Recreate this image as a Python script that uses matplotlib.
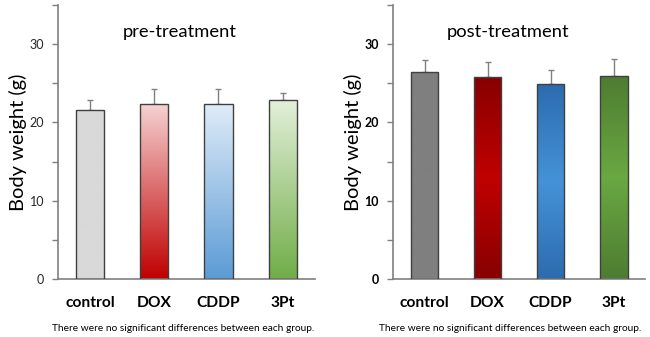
import matplotlib
matplotlib.use("Agg")
import matplotlib.pyplot as plt
import numpy as np
from matplotlib.colors import LinearSegmentedColormap

plt.rcParams["font.family"] = ["Lato", "DejaVu Sans"]

# data
groups = ["control", "DOX", "CDDP", "3Pt"]
pre_mean = [21.6, 22.4, 22.4, 22.9]
pre_err = [1.3, 1.9, 1.9, 0.9]
post_mean = [26.5, 25.8, 24.9, 25.9]
post_err = [1.5, 1.95, 1.8, 2.2]
note = "There were no significant differences between each group."

# gradient colours (top -> bottom)
pre_colors = [
    ["#d9d9d9", "#d9d9d9"],
    ["#f6d3d3", "#c00000"],
    ["#e0ecf8", "#5b9bd5"],
    ["#e3f0da", "#70ad47"],
]
post_colors = [
    ["#7f7f7f", "#7f7f7f", "#7f7f7f"],
    ["#880000", "#c00000", "#880000"],
    ["#2c6cae", "#4592d8", "#2c6cae"],
    ["#4e7c31", "#6aa842", "#4e7c31"],
]


def draw_panel(ax, means, errs, colors, title, title_x, note_x, bold_ticks):
    x = np.arange(len(groups))
    bars = ax.bar(x, means, width=0.44, color="none", edgecolor="#404040",
                  linewidth=1.0, zorder=3)
    for bar, cols in zip(bars, colors):
        cmap = LinearSegmentedColormap.from_list("g", cols[::-1])
        grad = np.linspace(0, 1, 256).reshape(-1, 1)
        x0, y0 = bar.get_x(), bar.get_y()
        im = ax.imshow(grad, cmap=cmap, aspect="auto", origin="lower",
                       extent=[x0, x0 + bar.get_width(), y0, y0 + bar.get_height()],
                       zorder=2)
        im.set_clip_path(bar)
    ax.errorbar(x, means, yerr=[np.zeros(len(errs)), errs], fmt="none",
                ecolor="#808080", elinewidth=1.0, capsize=2.5, capthick=1.0,
                zorder=1)

    ax.set_xlim(-0.5, 3.5)
    ax.set_ylim(0, 35)
    ax.set_yticks([0, 10, 20, 30])
    ax.set_yticks([5, 15, 25, 35], minor=True)
    ax.set_xticks(x)
    ax.set_xticklabels(groups, fontsize=11.2, fontweight="bold")
    ax.tick_params(axis="x", length=0, pad=12)
    ax.tick_params(axis="y", which="both", direction="out", length=4,
                   color="#808080", width=1.0, pad=6,
                   labelsize=9, labelcolor="#262626")
    if bold_ticks:
        for lbl in ax.get_yticklabels():
            lbl.set_fontweight("bold")
            lbl.set_color("black")
    for s in ["top", "right"]:
        ax.spines[s].set_visible(False)
    for s in ["left", "bottom"]:
        ax.spines[s].set_color("#808080")
        ax.spines[s].set_linewidth(1.2)
    ax.set_ylabel("Body weight (g)", fontsize=14.5, labelpad=2)
    ax.text(title_x, 0.9, title, transform=ax.transAxes, ha="center",
            va="center", fontsize=13.2)
    ax.text(note_x, -0.18, note, transform=ax.transAxes, ha="center",
            va="center", fontsize=7.3)


fig = plt.figure(figsize=(6.5, 3.37), dpi=100)
ax1 = fig.add_axes([0.0892, 0.172, 0.395, 0.813])
ax2 = fig.add_axes([0.6046, 0.172, 0.388, 0.813])

draw_panel(ax1, pre_mean, pre_err, pre_colors, "pre-treatment", 0.475, 0.486, False)
draw_panel(ax2, post_mean, post_err, post_colors, "post-treatment", 0.456, 0.465, True)

fig.savefig("out.png", dpi=100)
